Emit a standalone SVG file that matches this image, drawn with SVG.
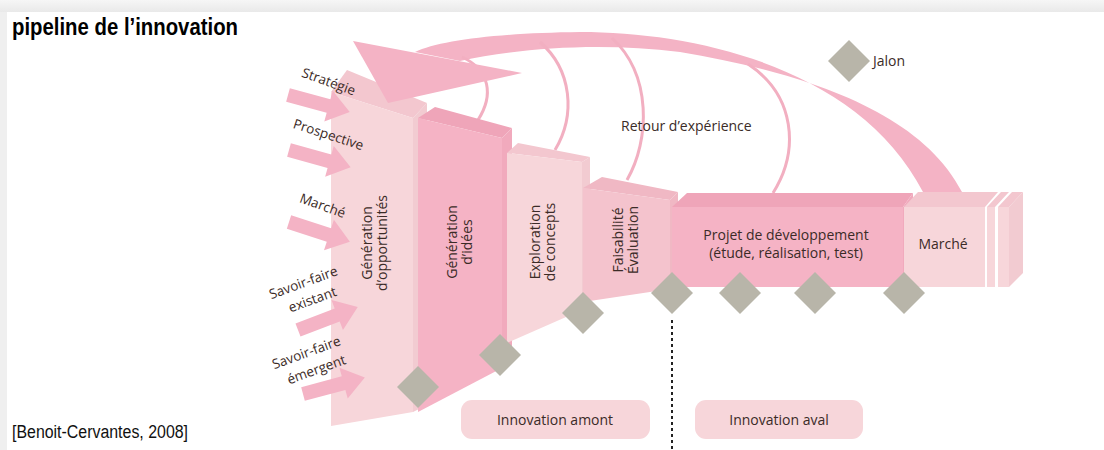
<svg xmlns="http://www.w3.org/2000/svg" xmlns:xlink="http://www.w3.org/1999/xlink" width="1104" height="450" viewBox="0 0 1104 450">
<defs>
<style>
.lbl{font-family:"Open Sans","DejaVu Sans",sans-serif;font-size:14px;fill:#3b2b27}
.sm{font-size:13.5px}
.mid{text-anchor:middle}
.lt{fill:#f7d6da}.ltt{fill:#f3c7cf}.lts{fill:#f2cbd1}
.dk{fill:#f5b3c5}.dkt{fill:#efa5b9}.dks{fill:#f1aabd}
.md{fill:#f4c3cd}.mdt{fill:#f0b8c4}
.fb{fill:none;stroke:#f2afc1;stroke-width:3}
.dia{fill:#b8b5a9}
.arr{fill:#f4b3c5}
</style>
<linearGradient id="topsh" x1="0" y1="0" x2="0" y2="1">
<stop offset="0" stop-color="#f6f6f6"/><stop offset="1" stop-color="#e9e9e9"/>
</linearGradient>
<polygon id="dm" class="dia" points="0,-21 21,0 0,21 -21,0"/>
<path id="ar" class="arr" d="M0,-7 L42,-7 L42,-16 L64,0 L42,16 L42,7 L0,7 Z"/>
</defs>
<rect x="0" y="0" width="1104" height="450" fill="#efefef"/>
<rect x="0" y="0" width="1104" height="12" fill="url(#topsh)"/>
<rect x="7" y="12" width="1097" height="438" fill="#ffffff"/>

<g id="title">
<text x="12" y="35" font-family="Liberation Sans, Arial, sans-serif" font-weight="bold" font-size="23" textLength="226" lengthAdjust="spacingAndGlyphs" fill="#000">pipeline de l’innovation</text>
</g>
<g id="source">
<text x="12" y="438" font-family="Liberation Sans, Arial, sans-serif" font-size="18" textLength="176" lengthAdjust="spacingAndGlyphs" fill="#111">[Benoit-Cervantes, 2008]</text>
</g>

<g id="connectors">
<path id="retour-band" class="arr" d="M415,52 C440,40 500,33 580,32 C700,32 860,70 923,192 L962,192 C920,110 800,72 680,52 C600,42 520,48 460,61 Z"/>
<path class="fb" d="M478,120 C494,95 490,70 462,57"/>
<path class="fb" d="M555,150 C576,115 572,70 540,42"/>
<path class="fb" d="M627,180 C650,140 652,75 612,38"/>
<path class="fb" d="M773,193 C800,150 795,95 748,64"/>
<line x1="672" y1="320" x2="672" y2="450" stroke="#222" stroke-width="2" stroke-dasharray="3,3"/>
</g>

<g id="block-opportunites">
<path class="ltt" d="M331,92 L347,70 L427,103 L413,118 Z"/>
<path class="lts" d="M413,118 L427,103 L427,405 L413,412 Z"/>
<path class="lt" d="M331,92 L413,118 L413,412 L331,426 Z"/>
</g>
<g id="block-idees">
<path class="dkt" d="M418,118 L435,107 L512,128 L502,138 Z"/>
<path class="dks" d="M502,138 L512,128 L512,363 L502,368 Z"/>
<path class="dk" d="M418,118 L502,138 L502,368 L418,412 Z"/>
<text class="lbl mid" transform="translate(457,242) rotate(-90)">Génération</text>
<text class="lbl mid" transform="translate(472,242) rotate(-90)">d’idées</text>
</g>
<g id="block-concepts">
<path class="ltt" d="M507,153 L518,143 L590,157 L582,162 Z"/>
<path class="lts" d="M582,162 L590,157 L590,306 L582,310 Z"/>
<path class="lt" d="M507,153 L582,162 L582,310 L507,343 Z"/>
<text class="lbl mid" transform="translate(540,242) rotate(-90)">Exploration</text>
<text class="lbl mid" transform="translate(555,242) rotate(-90)">de concepts</text>
</g>
<g id="block-faisabilite">
<path class="mdt" d="M583,188 L602,177 L678,192 L670,200 Z"/>
<path class="mdt" d="M670,200 L678,192 L678,288 L670,289 Z"/>
<path class="md" d="M583,188 L670,200 L670,289 L583,302 Z"/>
<text class="lbl mid" transform="translate(623,240) rotate(-90)">Faisabilité</text>
<text class="lbl mid" transform="translate(638,240) rotate(-90)">Évaluation</text>
</g>
<g id="block-projet">
<path class="dkt" d="M672,207 L687,193 L913,193 L903,207 Z"/>
<path class="dks" d="M903,207 L913,193 L913,280 L903,287 Z"/>
<path class="dk" d="M672,207 L903,207 L903,287 L672,287 Z"/>
<text class="lbl mid" x="786" y="240">Projet de développement</text>
<text class="lbl mid" x="786" y="258">(étude, réalisation, test)</text>
</g>
<g id="block-marche">
<path class="ltt" d="M998,207 L1012,192 L1023,192 L1009,207 Z"/>
<path class="lts" d="M1009,207 L1023,192 L1023,273 L1009,287 Z"/>
<path class="lt" d="M998,207 L1009,207 L1009,287 L998,287 Z"/>
<path class="ltt" d="M987,207 L1001,192 L1009,192 L995,207 Z"/>
<path class="lt" d="M987,207 L995,207 L995,287 L987,287 Z"/>
<path class="ltt" d="M904,207 L918,192 L998,192 L985,207 Z"/>
<path class="lt" d="M904,207 L985,207 L985,287 L904,287 Z"/>
<text class="lbl mid" x="943" y="249">Marché</text>
</g>

<g id="retour-arrowhead">
<polygon class="arr" points="353,41 522,73 388,103"/>
</g>

<g id="inputs">
<use xlink:href="#ar" transform="translate(288,95) rotate(15.3)"/>
<use xlink:href="#ar" transform="translate(289,150) rotate(15.6)"/>
<use xlink:href="#ar" transform="translate(289,222) rotate(18)"/>
<use xlink:href="#ar" transform="translate(298,330) rotate(-21)"/>
<use xlink:href="#ar" transform="translate(303,394) rotate(-15)"/>
<text class="lbl sm mid" transform="translate(327,86) rotate(20)">Stratégie</text>
<text class="lbl sm mid" transform="translate(327,139) rotate(18)">Prospective</text>
<text class="lbl sm mid" transform="translate(321,210) rotate(20)">Marché</text>
<text class="lbl sm mid" transform="translate(305,287) rotate(-20)">Savoir-faire</text>
<text class="lbl sm mid" transform="translate(314,304) rotate(-20)">existant</text>
<text class="lbl sm mid" transform="translate(308,357) rotate(-20)">Savoir-faire</text>
<text class="lbl sm mid" transform="translate(318,374) rotate(-20)">émergent</text>
</g>

<g id="label-opportunites">
<text class="lbl mid" transform="translate(372,243) rotate(-90)">Génération</text>
<text class="lbl mid" transform="translate(387,243) rotate(-90)">d’opportunités</text>
</g>

<g id="jalons">
<use xlink:href="#dm" x="418" y="387"/>
<use xlink:href="#dm" x="500" y="355"/>
<use xlink:href="#dm" x="583" y="313"/>
<use xlink:href="#dm" x="672" y="293"/>
<use xlink:href="#dm" x="740" y="293"/>
<use xlink:href="#dm" x="815" y="293"/>
<use xlink:href="#dm" x="904" y="293"/>
</g>

<g id="legend">
<use xlink:href="#dm" x="849" y="61"/>
<text class="lbl" x="873" y="66">Jalon</text>
</g>
<g id="label-retour">
<text class="lbl" x="621" y="131">Retour d’expérience</text>
</g>

<g id="innovation-amont">
<rect x="461" y="400" width="189" height="39" rx="11" fill="#f7d6da"/>
<text class="lbl mid" x="555" y="425">Innovation amont</text>
</g>
<g id="innovation-aval">
<rect x="695" y="400" width="168" height="39" rx="11" fill="#f7d6da"/>
<text class="lbl mid" x="779" y="425">Innovation aval</text>
</g>
</svg>
